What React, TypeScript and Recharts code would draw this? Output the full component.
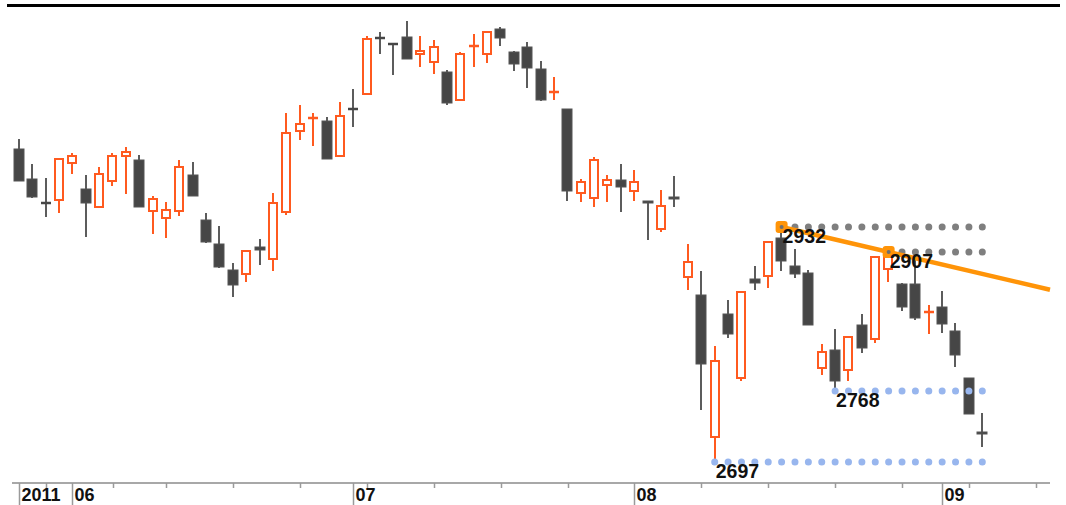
import { ComposedChart, Bar, XAxis, YAxis, ReferenceLine, ReferenceDot } from "recharts";

// daily candles, 2011-05-26 .. 2011-09-06
const opens = [
  3010, 2980, 2956, 2959, 2996, 2970, 2952, 2978, 3003, 2999,
  2948, 2941, 2948, 2984, 2939, 2915, 2889, 2885, 2912, 2900,
  2947, 3028, 3040, 3038, 3003, 3050, 3065, 3121, 3115, 3122,
  3105, 3097, 3087, 3059, 3112, 3105, 3130, 3107, 3112, 3090,
  3066, 3050, 2966, 2961, 2974, 2979, 2968, 2958, 2930, 2962,
  2882, 2864, 2722, 2845, 2781, 2880, 2883, 2921, 2893, 2886,
  2791, 2809, 2789, 2834, 2820, 2890, 2875, 2875, 2846, 2852,
  2828, 2781, 2727,
];
const highs = [
  3020, 2995, 2981, 3000, 3006, 2984, 2992, 3006, 3012, 3004,
  2963, 2957, 2999, 2997, 2946, 2933, 2896, 2908, 2920, 2966,
  3046, 3054, 3046, 3042, 3057, 3070, 3123, 3127, 3115, 3138,
  3123, 3119, 3089, 3107, 3125, 3128, 3132, 3108, 3117, 3098,
  3082, 3050, 2980, 3002, 2984, 2995, 2989, 2958, 2969, 2983,
  2915, 2888, 2813, 2859, 2867, 2893, 2917, 2932, 2910, 2889,
  2815, 2830, 2822, 2845, 2903, 2907, 2876, 2899, 2854, 2868,
  2836, 2781, 2746,
];
const lows = [
  2978, 2961, 2942, 2946, 2985, 2922, 2952, 2973, 2965, 2952,
  2925, 2921, 2943, 2963, 2916, 2891, 2862, 2877, 2894, 2888,
  2944, 3019, 3013, 3000, 3003, 3032, 3065, 3105, 3084, 3100,
  3092, 3085, 3054, 3059, 3092, 3096, 3113, 3088, 3071, 3058,
  3059, 2958, 2957, 2952, 2957, 2947, 2958, 2919, 2927, 2952,
  2869, 2749, 2697, 2821, 2778, 2869, 2871, 2888, 2881, 2834,
  2784, 2768, 2778, 2806, 2816, 2877, 2848, 2839, 2825, 2826,
  2792, 2745, 2712,
];
const closes = [
  2978, 2962, 2955, 3000, 3003, 2956, 2985, 3003, 3007, 2952,
  2960, 2949, 2992, 2963, 2917, 2892, 2874, 2908, 2909, 2956,
  3026, 3035, 3041, 3000, 3043, 3049, 3120, 3120, 3114, 3100,
  3108, 3112, 3056, 3105, 3113, 3127, 3121, 3095, 3091, 3059,
  3067, 2968, 2977, 2999, 2979, 2972, 2977, 2956, 2953, 2960,
  2897, 2795, 2798, 2825, 2867, 2876, 2917, 2898, 2885, 2834,
  2807, 2778, 2822, 2811, 2902, 2902, 2852, 2841, 2847, 2835,
  2804, 2745, 2725,
];

// x-axis ticks (bar index) and their labels
const tickIdx = [0, 2, 4, 7, 11, 16, 21, 25, 26, 31, 36, 41, 46, 51, 56, 61, 66, 69, 71, 76];
const tickText = ["2011", "", "06", "", "", "", "", "07", "", "", "", "", "08", "", "", "", "", "09", "", ""];

// annotations: trend line through two highs, support/resistance levels
const trendFrom = { i: 57, v: 2932 };
const trendTo = { i: 65, v: 2907 };
const grayLevels = [
  { from: 57, v: 2932 },
  { from: 65, v: 2907 },
];
const blueLevels = [
  { from: 61, v: 2768 },
  { from: 52, v: 2697 },
];
const levelEnd = 72;

const W = 1066;
const H = 505;
const LEFT = 12;
const RIGHT = 1050;
const X_MIN = -0.52;
const X_MAX = 77.06;
const STEP = (RIGHT - LEFT) / (X_MAX - X_MIN);

const UP = "#ff5a1f";
const DOWN = "#464646";
const DOWN_WICK = "#5c5c5c";
const TREND = "#ff9408";
const FONT = "'Liberation Sans', Arial, sans-serif";

const data = opens.map((o, i) => ({ i, o, h: highs[i], l: lows[i], c: closes[i] }));

function Candle(props: any) {
  const { x, y, width, height, payload } = props;
  const { o, h, l, c } = payload;
  const k = height / (h - l);
  const py = (v: number) => y + (h - v) * k;
  const cx = Math.round(x + width / 2);
  const up = c >= o;
  const top = py(Math.max(o, c));
  const bot = py(Math.min(o, c));
  const color = up ? UP : DOWN;

  if (bot - top < 2) {
    return (
      <g>
        <line x1={cx} x2={cx} y1={py(h)} y2={py(l)} stroke={up ? UP : DOWN_WICK} strokeWidth={2} />
        <line x1={cx - 5} x2={cx + 5} y1={top} y2={top} stroke={color} strokeWidth={2.5} />
      </g>
    );
  }
  if (up) {
    return (
      <g>
        <line x1={cx} x2={cx} y1={py(h)} y2={top} stroke={UP} strokeWidth={2} />
        <line x1={cx} x2={cx} y1={bot} y2={py(l)} stroke={UP} strokeWidth={2} />
        <rect x={cx - 4} y={top} width={8} height={bot - top} fill="#fff" stroke={UP} strokeWidth={2} />
      </g>
    );
  }
  return (
    <g>
      <line x1={cx} x2={cx} y1={py(h)} y2={py(l)} stroke={DOWN_WICK} strokeWidth={2} />
      <rect x={cx - 5} y={top} width={10} height={bot - top} fill={DOWN} stroke="#555" strokeWidth={1} />
    </g>
  );
}

function AxisTick(props: any) {
  const { x, y, payload } = props;
  const label = tickText[tickIdx.indexOf(payload.value)] || "";
  const xx = Math.round(x) + 0.5;
  return (
    <g>
      <line x1={xx} x2={xx} y1={y} y2={label ? y + 22 : y + 5} stroke="#9a9a9a" strokeWidth={1.5} />
      {label && (
        <text x={xx + 2} y={y + 18} fontSize={18} fontWeight="bold" fill="#111" fontFamily={FONT}>
          {label}
        </text>
      )}
    </g>
  );
}

function Marker(props: any) {
  const { cx, cy } = props;
  return (
    <g>
      <rect x={cx - 6} y={cy - 6} width={12} height={12} rx={3} fill={TREND} />
      <circle cx={cx} cy={cy} r={2} fill="#6f6f6f" />
    </g>
  );
}

function ValueLabel(props: any) {
  const { cx, cy, value } = props;
  return (
    <text x={cx + 1} y={cy + 16} fontSize={19.5} fontWeight="bold" fill="#111" fontFamily={FONT}>
      {value}
    </text>
  );
}

export default function App() {
  const slope = (trendTo.v - trendFrom.v) / (trendTo.i - trendFrom.i);
  const trendEnd = trendFrom.v + slope * (X_MAX - trendFrom.i);

  return (
    <div style={{ position: "absolute", left: 0, top: 0, width: W, height: H, background: "#fff" }}>
      <div style={{ position: "absolute", left: 7, top: 4, width: 1053, height: 3, background: "#000" }} />
      <ComposedChart
        width={W}
        height={H}
        data={data}
        margin={{ top: 8, right: W - RIGHT, bottom: 0, left: LEFT }}
      >
        <XAxis
          type="number"
          dataKey="i"
          domain={[X_MIN, X_MAX]}
          allowDataOverflow
          ticks={tickIdx}
          interval={0}
          height={22}
          tickSize={0}
          tickMargin={0}
          tickLine={false}
          axisLine={{ stroke: "#a8a8a8", strokeWidth: 2 }}
          tick={<AxisTick />}
        />
        <YAxis hide domain={[2676, 3151]} allowDataOverflow />
        <Bar
          dataKey={(d: any) => [d.l, d.h]}
          barSize={13}
          shape={<Candle />}
          isAnimationActive={false}
        />
        {grayLevels.map((lv) => (
          <ReferenceLine
            key={"g" + lv.v}
            segment={[{ x: lv.from, y: lv.v }, { x: levelEnd + 0.05, y: lv.v }]}
            stroke="#7f7f7f"
            strokeWidth={7}
            strokeLinecap="round"
            strokeDasharray={`0 ${STEP}`}
          />
        ))}
        {blueLevels.map((lv) => (
          <ReferenceLine
            key={"b" + lv.v}
            segment={[{ x: lv.from, y: lv.v }, { x: levelEnd + 0.05, y: lv.v }]}
            stroke="#98b6ee"
            strokeWidth={7}
            strokeLinecap="round"
            strokeDasharray={`0 ${STEP}`}
          />
        ))}
        <ReferenceLine
          segment={[{ x: trendFrom.i, y: trendFrom.v }, { x: X_MAX, y: trendEnd }]}
          stroke={TREND}
          strokeWidth={4.5}
        />
        <ReferenceDot x={trendFrom.i} y={trendFrom.v} shape={<Marker />} />
        <ReferenceDot x={trendTo.i} y={trendTo.v} shape={<Marker />} />
        {[...grayLevels, ...blueLevels].map((lv) => (
          <ReferenceDot
            key={"t" + lv.v}
            x={lv.from}
            y={lv.v}
            shape={(p: any) => <ValueLabel {...p} value={lv.v} />}
          />
        ))}
      </ComposedChart>
    </div>
  );
}
